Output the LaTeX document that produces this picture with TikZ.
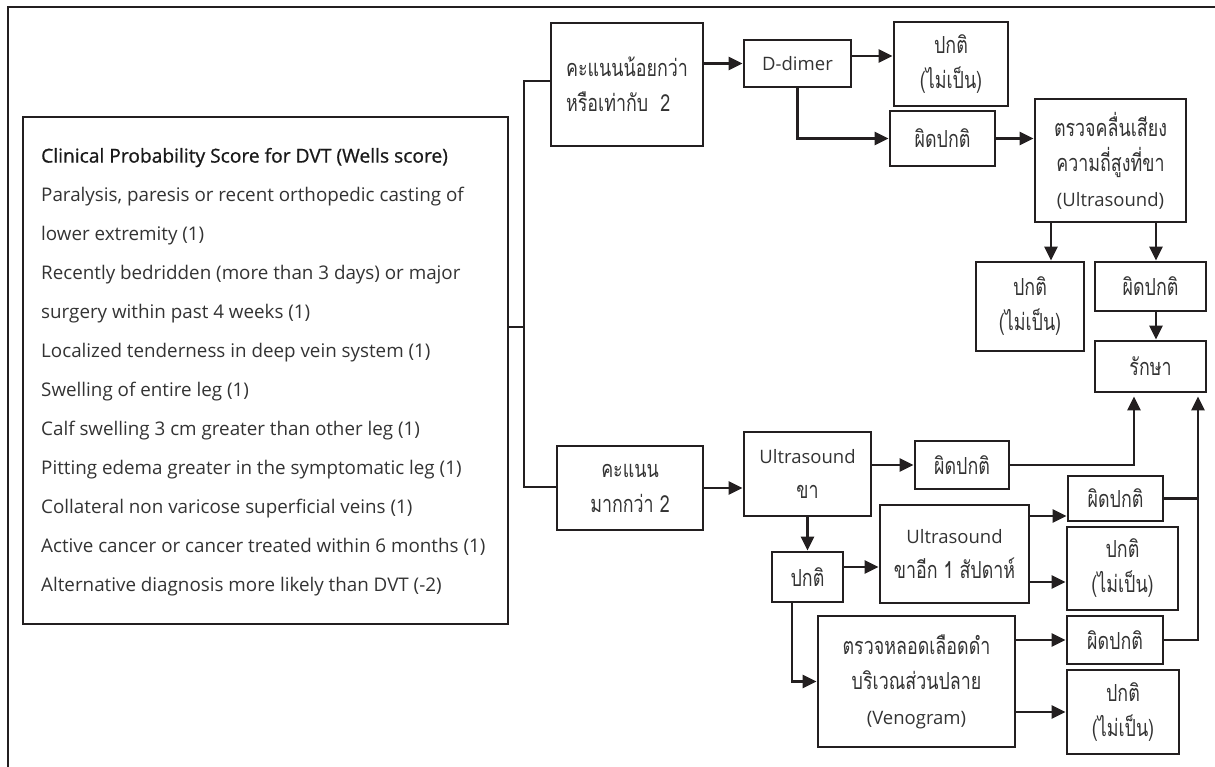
\documentclass[tikz,border=0pt]{standalone}
\usepackage{fontspec}
\setmainfont{Open Sans}
\newfontfamily\thaiff[Script=Thai,FakeStretch=0.76]{Loma}
\newfontfamily\titleff[FakeBold=0.8]{Open Sans}
\usetikzlibrary{arrows.meta}
\definecolor{linec}{HTML}{231F20}
\definecolor{textc}{HTML}{333333}
\newcommand\thaitext{\thaiff\fontsize{23.5}{35}\selectfont}
\newcommand\lattext{\fontsize{18.5}{35}\selectfont}
\newcommand\wellstext{\fontsize{18.8}{39}\selectfont}
\begin{document}
\begin{tikzpicture}[x=1pt,y=-1pt,
  box/.style={draw=linec, line width=2.8pt, inner sep=0pt, align=center, text=textc, font=\thaitext},
  conn/.style={draw=linec, line width=2.6pt},
  arr/.style={conn, -{Triangle[length=14pt,width=13pt]}}]
\useasboundingbox (0,0) rectangle (1215,766);
% outer frame (cut at right and bottom)
\draw[draw=linec, line width=2.4pt] (8,770) -- (8,7) -- (1220,7);

% Wells box
\node[box, minimum width=485pt, minimum height=507pt] (wells) at (265.5,370.5) {};
\node[anchor=west, inner sep=0pt, align=left, text=textc, font=\wellstext] (wellstext) at (41,372) {%
{\titleff\fontsize{19.2}{39}\selectfont\color{black!90}Clinical Probability Score for DVT (Wells score)}\\
Paralysis, paresis or recent orthopedic casting of\\
lower extremity (1)\\
Recently bedridden (more than 3 days) or major\\
surgery within past 4 weeks (1)\\
Localized tenderness in deep vein system (1)\\
Swelling of entire leg (1)\\
Calf swelling 3 cm greater than other leg (1)\\
Pitting edema greater in the symptomatic leg (1)\\
Collateral non varicose superficial veins (1)\\
Active cancer or cancer treated within 6 months (1)\\
Alternative diagnosis more likely than DVT (-2)};

% boxes
\node[box, minimum width=152pt, minimum height=123pt, align=left] (boxA) at (627,84.5) {คะแนนน้อยกว่า\\หรือเท่ากับ~~2};
\node[box, minimum width=107pt, minimum height=47pt, font=\lattext] (ddimer) at (797.5,63.5) {D-dimer};
\node[box, minimum width=114pt, minimum height=84pt] (nd1) at (951,64) {ปกติ\\(ไม่เป็น)};
\node[box, minimum width=105pt, minimum height=55pt] (ab1) at (942.5,138.5) {ผิดปกติ};
\node[box, minimum width=151pt, minimum height=123pt] (us1) at (1110.5,160.5) {ตรวจคลื่นเสียง\\ความถี่สูงที่ขา\\{\lattext\rmfamily (Ultrasound)}};
\node[box, minimum width=108pt, minimum height=89pt] (nd2) at (1030,306.5) {ปกติ\\(ไม่เป็น)};
\node[box, minimum width=111pt, minimum height=49pt] (ab2) at (1150.5,286.5) {ผิดปกติ};
\node[box, minimum width=111pt, minimum height=51pt] (treat) at (1150.5,366.5) {รักษา};
\node[box, minimum width=146pt, minimum height=84pt] (boxB) at (630,488) {คะแนน\\มากกว่า 2};
\node[box, minimum width=127pt, minimum height=84pt] (us2) at (807.5,474) {{\lattext\rmfamily Ultrasound}\\ขา};
\node[box, minimum width=94pt, minimum height=48pt] (ab3) at (962,465) {ผิดปกติ};
\node[box, minimum width=71pt, minimum height=50pt] (nd3) at (807.5,577) {ปกติ};
\node[box, minimum width=149pt, minimum height=98pt] (us3) at (954.5,554) {{\lattext\rmfamily Ultrasound}\\ขาอีก 1 สัปดาห์};
\node[box, minimum width=95pt, minimum height=45pt] (ab4) at (1115.5,498.5) {ผิดปกติ};
\node[box, minimum width=111pt, minimum height=83pt] (nd4) at (1122.5,568.5) {ปกติ\\(ไม่เป็น)};
\node[box, minimum width=197pt, minimum height=131pt] (ven) at (916.5,681.5) {ตรวจหลอดเลือดดำ\\บริเวณส่วนปลาย\\{\lattext\rmfamily (Venogram)}};
\node[box, minimum width=96pt, minimum height=48pt] (ab5) at (1115,640) {ผิดปกติ};
\node[box, minimum width=112pt, minimum height=84pt] (nd5) at (1123,712) {ปกติ\\(ไม่เป็น)};

% helper coordinates
\coordinate (tTop) at (524,81);
\coordinate (tMid) at (524,327);
\coordinate (tBot) at (524,487);
\coordinate (xA) at (1051,0);
\coordinate (xB) at (1156,0);
\coordinate (xC) at (1134,0);
\coordinate (xD) at (792,0);
\coordinate (xE) at (1198,0);
\coordinate (yA) at (0,56);
\coordinate (yB) at (0,567);
\coordinate (yC) at (0,516);
\coordinate (yD) at (0,582);

% trunk
\draw[conn] (tTop -| boxA.west) -- (tTop) -- (tBot) -- (tBot -| boxB.west);
\draw[conn] (tMid -| wells.east) -- (tMid);

% upper branch
\draw[arr] (boxA.east |- ddimer) -- (ddimer.west);
\draw[arr] (ddimer.east |- yA) -- (nd1.west |- yA);
\draw[arr] (ddimer.south) |- (ab1.west);
\draw[arr] (ab1.east) -- (ab1.east -| us1.west);
\draw[arr] (us1.south -| xA) -- (nd2.north -| xA);
\draw[arr] (us1.south -| xB) -- (ab2.north -| xB);
\draw[arr] (ab2.south -| xB) -- (treat.north -| xB);

% lower branch
\draw[arr] (boxB.east) -- (boxB.east -| us2.west);
\draw[arr] (us2.east |- ab3) -- (ab3.west);
\draw[arr, shorten >=3pt] (ab3.east) -| (xC |- treat.south);
\draw[arr] (us2.south) -- (nd3.north);
\draw[arr] (nd3.east |- yB) -- (us3.west |- yB);
\draw[arr] (nd3.south -| xD) |- (ven.west);
\draw[arr] (us3.east |- yC) -- (ab4.west |- yC);
\draw[arr] (us3.east |- yD) -- (nd4.west |- yD);
\draw[arr] (ven.east |- ab5) -- (ab5.west);
\draw[arr] (ven.east |- nd5) -- (nd5.west);
\draw[conn] (ab4.east) -- (ab4.east -| xE);
\draw[arr, shorten >=3pt] (ab5.east) -| (xE |- treat.south);
\end{tikzpicture}
\end{document}
